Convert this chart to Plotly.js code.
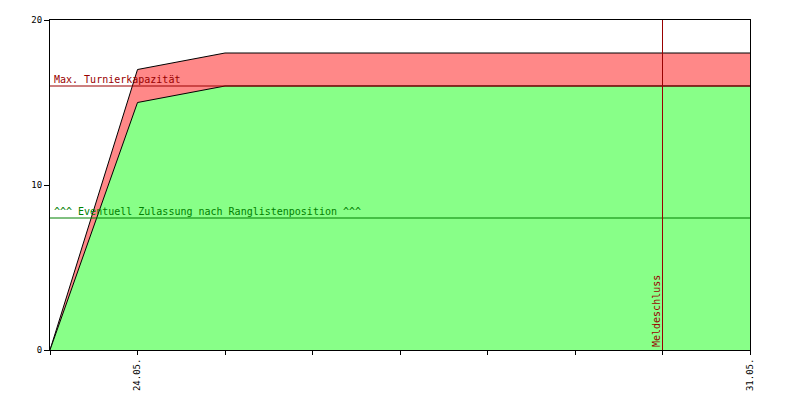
<!DOCTYPE html>
<html><head><meta charset="utf-8">
<script src="https://cdn.plot.ly/plotly-3.0.1.min.js"></script>
<style>body{margin:0;background:#fff}#c{width:800px;height:400px}</style>
</head><body><div id="c"></div>
<script>
const days = [0, 1, 2, 3, 4, 5, 6, 7, 8];
const dayLabels = ['', '24.05.', '', '', '', '', '', '', '31.05.'];
const registered = [0, 17, 18, 18, 18, 18, 18, 18, 18];
const admitted = [0, 15, 16, 16, 16, 16, 16, 16, 16];
const maxCapacity = 16;
const rankingLimit = 8;
const deadlineDay = 7;
const yTicks = [0, 10, 20];

const mono = 'DejaVu Sans Mono, monospace';
const traces = [
  {x: days, y: registered, type: 'scatter', mode: 'lines', fill: 'tozeroy',
   fillcolor: '#ff8888', line: {color: '#000', width: 1}, hoverinfo: 'skip'},
  {x: days, y: admitted, type: 'scatter', mode: 'lines', fill: 'tozeroy',
   fillcolor: '#88ff88', line: {color: '#000', width: 1}, hoverinfo: 'skip'}
];
const layout = {
  width: 800, height: 400,
  margin: {l: 50, r: 50, t: 20, b: 50},
  paper_bgcolor: '#fff', plot_bgcolor: '#fff',
  showlegend: false,
  xaxis: {range: [days[0], days[days.length-1]], tickvals: days, ticktext: dayLabels,
    tickangle: -90, ticks: 'outside', ticklen: 4, tickcolor: '#000', showgrid: false,
    zeroline: false, showline: true, linecolor: '#000', linewidth: 1, mirror: true,
    tickfont: {family: mono, size: 9, color: '#000'}},
  yaxis: {range: [0, 20], tickvals: yTicks, ticks: 'outside', ticklen: 5, tickcolor: '#000',
    showgrid: false, zeroline: false, showline: true, linecolor: '#000', linewidth: 1, mirror: true,
    tickfont: {family: mono, size: 9, color: '#000'}},
  shapes: [
    {type: 'line', xref: 'paper', x0: 0, x1: 1, yref: 'y', y0: maxCapacity, y1: maxCapacity,
     line: {color: '#990000', width: 1}},
    {type: 'line', xref: 'paper', x0: 0, x1: 1, yref: 'y', y0: rankingLimit, y1: rankingLimit,
     line: {color: '#008000', width: 1}},
    {type: 'line', xref: 'x', x0: deadlineDay, x1: deadlineDay, yref: 'paper', y0: 0, y1: 1,
     line: {color: '#990000', width: 1}}
  ],
  annotations: [
    {text: 'Max. Turnierkapazität', x: 0, y: maxCapacity, xref: 'x', yref: 'y',
     xanchor: 'left', yanchor: 'bottom', xshift: 2, yshift: -1, showarrow: false,
     font: {family: mono, size: 10, color: '#990000'}},
    {text: '^^^ Eventuell Zulassung nach Ranglistenposition ^^^', x: 0, y: rankingLimit, xref: 'x', yref: 'y',
     xanchor: 'left', yanchor: 'bottom', xshift: 2, yshift: -1, showarrow: false,
     font: {family: mono, size: 10, color: '#008000'}},
    {text: 'Meldeschluss', x: deadlineDay, y: 0, xref: 'x', yref: 'y', textangle: -90,
     xanchor: 'right', yanchor: 'bottom', xshift: 1, yshift: 1, showarrow: false,
     font: {family: mono, size: 10, color: '#990000'}}
  ]
};
Plotly.newPlot('c', traces, layout, {staticPlot: true});
</script></body></html>
